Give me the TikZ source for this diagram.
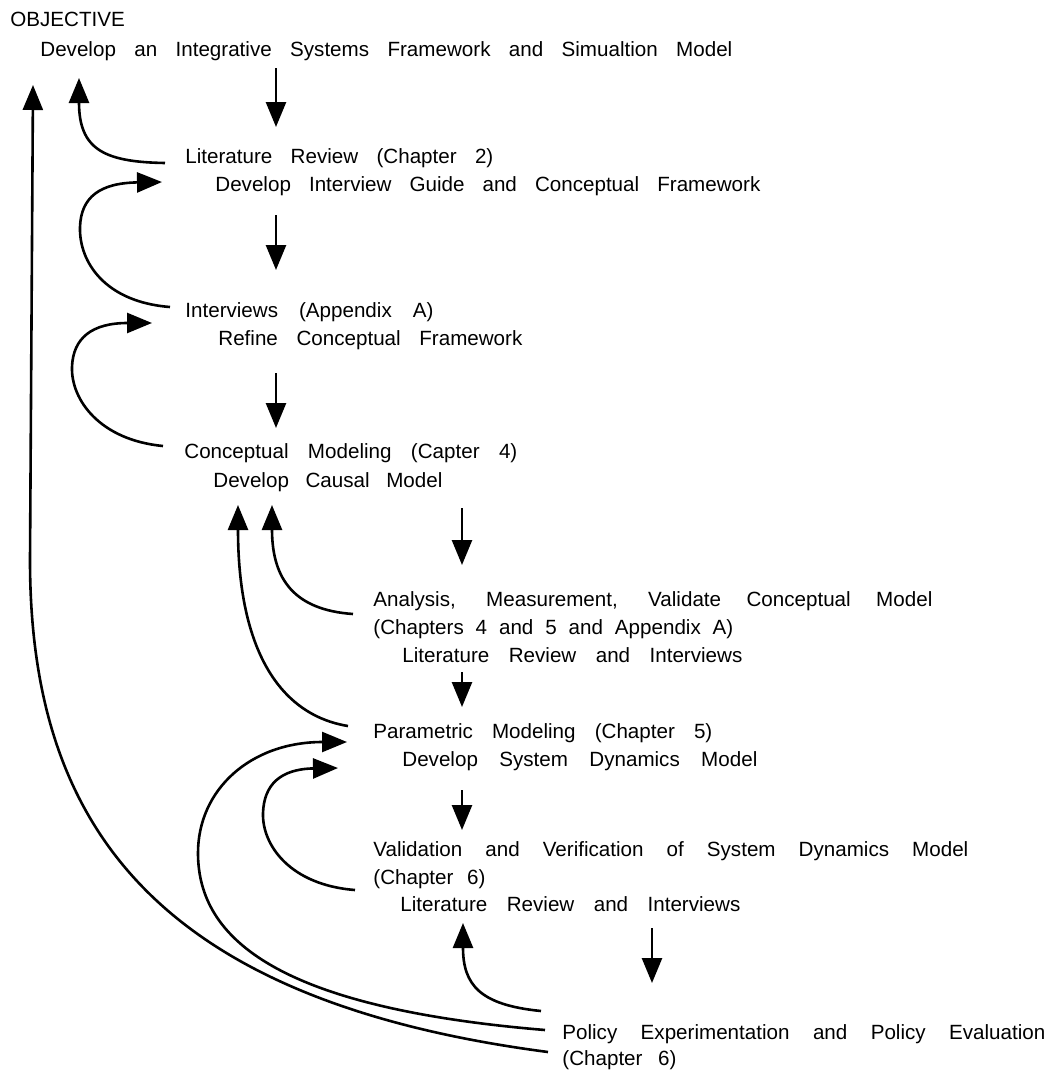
\documentclass[tikz,border=0pt]{standalone}
\usepackage{fontspec}
\setmainfont{Liberation Sans}
\usetikzlibrary{arrows.meta,calc}
\newlength{\px}
\setlength{\px}{0.5pt}
\newcommand{\fillto}[2]{\makebox[#1\px][s]{#2}}
\tikzset{
  txt/.style = {anchor = base west, inner sep = 0pt, font = \fontsize{10.3}{12}\selectfont},
  flow/.style = {line width = 1.3pt, -{Triangle[length = 12.5pt, width = 10pt]}}
}
\begin{document}
\begin{tikzpicture}[x = 0.5pt, y = -0.5pt]
    \useasboundingbox (0, 0) rectangle (1053, 1076);
    \coordinate (colA) at (276, 0);
    \coordinate (colB) at (462, 0);
    \coordinate (colC) at (652, 0);

    \node [txt] (obj) at (10, 26) {OBJECTIVE};
    \node [txt] (goal) at (40, 56) {\fillto{692}{Develop an Integrative Systems Framework and Simualtion Model}};
    \node [txt] (lit) at (185, 163) {\fillto{308}{Literature Review (Chapter 2)}};
    \node [txt] (litb) at (215, 191) {\fillto{545}{Develop Interview Guide and Conceptual Framework}};
    \node [txt] (int) at (185, 317) {\fillto{248}{Interviews (Appendix A)}};
    \node [txt] (intb) at (218, 345) {\fillto{304}{Refine Conceptual Framework}};
    \node [txt] (con) at (184, 458) {\fillto{333}{Conceptual Modeling (Capter 4)}};
    \node [txt] (conb) at (213, 487) {\fillto{229}{Develop Causal Model}};
    \node [txt] (ana) at (373, 606) {\fillto{559}{Analysis, Measurement, Validate Conceptual Model}};
    \node [txt] (anab) at (373, 634) {\fillto{360}{(Chapters 4 and 5 and Appendix A)}};
    \node [txt] (anac) at (402, 662) {\fillto{340}{Literature Review and Interviews}};
    \node [txt] (par) at (373, 738) {\fillto{339}{Parametric Modeling (Chapter 5)}};
    \node [txt] (parb) at (402, 766) {\fillto{355}{Develop System Dynamics Model}};
    \node [txt] (val) at (373, 856) {\fillto{595}{Validation and Verification of System Dynamics Model}};
    \node [txt] (valb) at (373, 884) {\fillto{112}{(Chapter 6)}};
    \node [txt] (valc) at (400, 911) {\fillto{340}{Literature Review and Interviews}};
    \node [txt] (pol) at (562, 1039) {\fillto{483}{Policy Experimentation and Policy Evaluation}};
    \node [txt] (polb) at (562, 1065) {\fillto{114}{(Chapter 6)}};

    \draw [flow] ($(goal.base -| colA) + (0, 12)$) -- ($(lit.base -| colA) + (0, -36)$);
    \draw [flow] ($(litb.base -| colA) + (0, 24)$) -- ($(int.base -| colA) + (0, -47)$);
    \draw [flow] ($(intb.base -| colA) + (0, 28)$) -- ($(con.base -| colA) + (0, -30)$);
    \draw [flow] ($(conb.base -| colB) + (0, 21)$) -- ($(ana.base -| colB) + (0, -41)$);
    \draw [flow] ($(anac.base -| colB) + (0, 10)$) -- ($(par.base -| colB) + (0, -31)$);
    \draw [flow] ($(parb.base -| colB) + (0, 24)$) -- ($(val.base -| colB) + (0, -26)$);
    \draw [flow] ($(valc.base -| colC) + (0, 17)$) -- ($(pol.base -| colC) + (0, -56)$);

    \draw [flow] ($(lit.base west) + (-20, 0)$) .. controls (105, 162) and (79, 150) .. ($(goal.base west) + (39, 22)$);
    \draw [flow] ($(int.base west) + (-15, -10)$) .. controls (105, 302) and (79, 262) .. (80, 227)
        .. controls (81, 197) and (100, 183) .. ($(litb.base west) + (-53, -9)$);
    \draw [flow] ($(con.base west) + (-21, -12)$) .. controls (100, 440) and (71, 400) .. (72, 367)
        .. controls (73, 338) and (92, 323) .. ($(intb.base west) + (-66, -22)$);
    \draw [flow] ($(ana.base west) + (-20, 8)$) .. controls (295, 610) and (272, 580) .. ($(conb.base west) + (59, 18)$);
    \draw [flow] ($(par.base west) + (-25, -12)$) .. controls (280, 715) and (238, 650) .. ($(conb.base west) + (25, 18)$);
    \draw [flow] ($(valb.base west) + (-18, 6)$) .. controls (290, 885) and (262, 845) .. (263, 813)
        .. controls (264, 785) and (280, 769) .. ($(parb.base west) + (-64, 2)$);
    \draw [flow] ($(pol.base west) + (-17, -9)$) .. controls (280, 1008) and (198, 940) .. (198, 853)
        .. controls (198, 790) and (250, 742) .. ($(par.base west) + (-26, 4)$);
    \draw [flow] ($(polb.base west) + (-14, -13)$) .. controls (150, 1000) and (30, 820) .. (30, 560)
        -- ($(goal.base west) + (-7, 29)$);
    \draw [flow] ($(pol.base west) + (-21, -28)$) .. controls (480, 1005) and (463, 985) .. ($(valc.base west) + (63, 12)$);
\end{tikzpicture}
\end{document}
